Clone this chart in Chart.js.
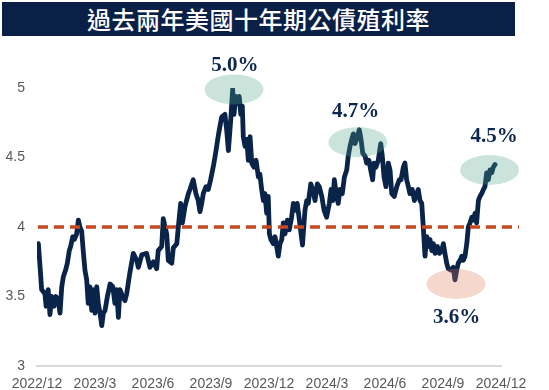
<!DOCTYPE html>
<html>
<head>
<meta charset="utf-8">
<script src="https://cdn.jsdelivr.net/npm/chart.js@4/dist/chart.umd.min.js"></script>
<style>
  html, body { margin: 0; padding: 0; background: #ffffff; }
  #wrap { position: relative; width: 549px; height: 390px; overflow: hidden; }
  #title {
    position: absolute; left: 2px; top: 2px; width: 513px; height: 34px;
    background: #0b2046; color: #ffffff; text-align: center;
    font-family: "Noto Sans CJK TC", "Noto Sans CJK SC", sans-serif;
    font-size: 24px; line-height: 34px; font-weight: 500; letter-spacing: 0.5px;
  }
  canvas { position: absolute; left: 0; top: 0; }
</style>
</head>
<body>
<div id="wrap">
  <div id="title">過去兩年美國十年期公債殖利率</div>
  <canvas id="c" width="549" height="390"></canvas>
</div>
<script>
// ---- data ----
const tickLabels = ["2022/12","2023/3","2023/6","2023/9","2023/12","2024/3","2024/6","2024/9","2024/12"];
// months elapsed since 2022/12
const months = [
  0.07,0.16,0.24,0.41,0.47,0.58,0.67,0.76,0.88,0.98,1.10,1.19,1.28,1.36,1.48,1.57,1.67,1.74,1.85,1.93,
  2.05,2.14,2.22,2.31,2.39,2.48,2.57,2.65,2.74,2.83,2.91,3.00,3.09,3.17,3.26,3.35,3.43,3.52,3.64,3.78,
  3.92,4.03,4.12,4.21,4.29,4.43,4.55,4.64,4.79,4.98,5.16,5.24,5.42,5.67,5.84,6.02,6.19,6.27,6.45,6.53,
  6.71,6.79,6.97,7.05,7.23,7.31,7.43,7.52,7.66,7.83,7.91,8.08,8.22,8.34,8.43,8.52,8.60,8.74,8.86,8.98,
  9.14,9.26,9.38,9.55,9.72,9.81,9.90,10.02,10.12,10.19,10.28,10.38,10.46,10.54,10.62,10.67,10.76,10.85,10.93,11.02,
  11.11,11.22,11.33,11.45,11.53,11.62,11.71,11.79,11.88,11.96,12.02,12.10,12.22,12.31,12.40,12.48,12.57,12.66,12.74,12.83,
  12.95,13.05,13.17,13.26,13.40,13.46,13.57,13.73,13.86,13.95,14.03,14.16,14.26,14.38,14.50,14.60,14.73,14.85,14.98,15.12,
  15.21,15.30,15.38,15.50,15.58,15.67,15.79,15.90,16.02,16.10,16.19,16.28,16.36,16.45,16.57,16.67,16.76,16.85,16.97,17.05,
  17.17,17.26,17.36,17.43,17.53,17.65,17.78,17.86,17.95,18.05,18.17,18.26,18.35,18.48,18.61,18.74,18.83,18.95,19.03,19.12,
  19.21,19.29,19.41,19.52,19.64,19.72,19.81,19.90,19.98,20.07,20.16,20.24,20.33,20.42,20.50,20.59,20.71,20.81,20.93,21.02,
  21.10,21.19,21.27,21.41,21.53,21.62,21.71,21.79,21.88,21.97,22.05,22.14,22.23,22.31,22.40,22.49,22.57,22.66,22.74,22.83,
  22.91,23.00,23.09,23.17,23.26,23.34,23.43,23.52,23.60,23.69
];
// US 10-year Treasury yield (%)
const yields = [
  3.88,3.71,3.55,3.52,3.43,3.55,3.37,3.50,3.43,3.50,3.47,3.38,3.57,3.64,3.69,3.74,3.83,3.86,3.93,3.91,
  3.95,4.05,4.00,3.97,3.83,3.69,3.62,3.45,3.57,3.40,3.55,3.38,3.57,3.45,3.38,3.29,3.38,3.40,3.50,3.59,
  3.57,3.45,3.55,3.35,3.55,3.50,3.47,3.52,3.66,3.81,3.76,3.71,3.80,3.81,3.71,3.75,3.70,3.83,3.86,4.06,
  3.95,3.76,3.74,3.85,3.88,4.00,4.17,4.03,4.15,4.24,4.27,4.34,4.24,4.19,4.11,4.17,4.24,4.29,4.27,4.34,
  4.45,4.55,4.66,4.79,4.81,4.70,4.55,4.77,4.99,4.81,4.94,4.89,4.94,4.81,4.87,4.65,4.58,4.63,4.48,4.65,
  4.46,4.43,4.48,4.36,4.38,4.27,4.19,4.24,4.10,4.22,3.95,3.91,3.88,3.93,3.86,3.79,3.88,3.91,4.03,3.95,
  4.05,3.98,4.07,4.17,4.12,4.17,4.05,3.87,4.12,4.19,4.17,4.31,4.27,4.19,4.31,4.29,4.22,4.12,4.07,4.17,
  4.27,4.19,4.34,4.22,4.17,4.27,4.24,4.36,4.41,4.51,4.58,4.63,4.67,4.60,4.65,4.70,4.63,4.53,4.51,4.46,
  4.48,4.41,4.34,4.46,4.43,4.48,4.60,4.51,4.36,4.29,4.46,4.41,4.24,4.22,4.29,4.34,4.34,4.43,4.46,4.34,
  4.29,4.24,4.27,4.19,4.24,4.27,4.19,4.17,4.00,3.79,3.93,3.86,3.91,3.83,3.88,3.81,3.86,3.81,3.83,3.88,
  3.81,3.74,3.70,3.69,3.71,3.62,3.69,3.74,3.76,3.79,3.76,3.79,3.88,4.00,4.03,4.07,4.05,4.10,4.03,4.19,
  4.22,4.24,4.27,4.29,4.39,4.34,4.41,4.39,4.43,4.45
];
const refLevel = [4, 4];
const refMonths = [0.05, 24.93];
// callouts: ellipse centre (month, yield) and label position (month, yield)
const callouts = [
  { m: 10.19, v: 4.99, text: "5.0%", lm: 10.24, lv: 5.16, kind: "high" },
  { m: 16.60, v: 4.61, text: "4.7%", lm: 16.48, lv: 4.83, kind: "high" },
  { m: 23.41, v: 4.41, text: "4.5%", lm: 23.64, lv: 4.65, kind: "high" },
  { m: 21.67, v: 3.59, text: "3.6%", lm: 21.71, lv: 3.35, kind: "low" }
];

const NAVY = '#0a2348';

const calloutPlugin = {
  id: 'callouts',
  afterDatasetsDraw(chart) {
    const ctx = chart.ctx, xs = chart.scales.x, ys = chart.scales.y;
    ctx.save();
    callouts.forEach(c => {
      const cx = xs.getPixelForValue(c.m), cy = ys.getPixelForValue(c.v);
      ctx.beginPath();
      ctx.ellipse(cx, cy, 29.5, 15, 0, 0, Math.PI * 2);
      ctx.fillStyle = c.kind === 'high' ? 'rgba(78,165,140,0.30)' : 'rgba(222,122,88,0.30)';
      ctx.fill();
    });
    ctx.fillStyle = '#0d2850';
    ctx.font = 'bold 21px "Liberation Serif", "Times New Roman", serif';
    ctx.textAlign = 'center';
    ctx.textBaseline = 'middle';
    callouts.forEach(c => {
      ctx.fillText(c.text, xs.getPixelForValue(c.lm), ys.getPixelForValue(c.lv));
    });
    ctx.restore();
  }
};

new Chart(document.getElementById('c'), {
  type: 'line',
  data: {
    datasets: [
      {
        data: refMonths.map((m, i) => ({ x: m, y: refLevel[i] })),
        borderColor: '#c8471e', borderWidth: 3.5, borderDash: [10, 6],
        pointRadius: 0, clip: false, order: 0, borderCapStyle: 'butt'
      },
      {
        data: months.map((m, i) => ({ x: m, y: yields[i] })),
        borderColor: NAVY, borderWidth: 4.8, pointRadius: 0, tension: 0,
        borderJoinStyle: 'round', borderCapStyle: 'round', order: 1
      }
    ]
  },
  options: {
    responsive: false,
    animation: false,
    events: [],
    layout: { padding: { top: 88, right: 48, bottom: 0, left: 0 } },
    plugins: { legend: { display: false }, tooltip: { enabled: false }, title: { display: false } },
    scales: {
      x: {
        type: 'linear', min: 0, max: 24,
        grid: { display: false, drawTicks: false },
        border: { display: true, color: '#d9d9d9', width: 2 },
        afterFit: (s) => { s.height = 24; },
        ticks: {
          stepSize: 3, autoSkip: false, maxRotation: 0, padding: 10,
          color: '#595959',
          font: { family: '"Liberation Sans Narrow", "Liberation Sans", Arial, sans-serif', size: 14 },
          callback: (v) => tickLabels[Math.round(v / 3)]
        }
      },
      y: {
        min: 3, max: 5,
        grid: { display: false, drawTicks: false },
        border: { display: false },
        afterFit: (s) => { s.width = 37; },
        ticks: {
          stepSize: 0.5, padding: 12, color: '#595959',
          font: { family: '"Liberation Sans", Arial, sans-serif', size: 14 },
          callback: (v) => String(v)
        }
      }
    }
  },
  plugins: [calloutPlugin]
});
</script>
</body>
</html>
